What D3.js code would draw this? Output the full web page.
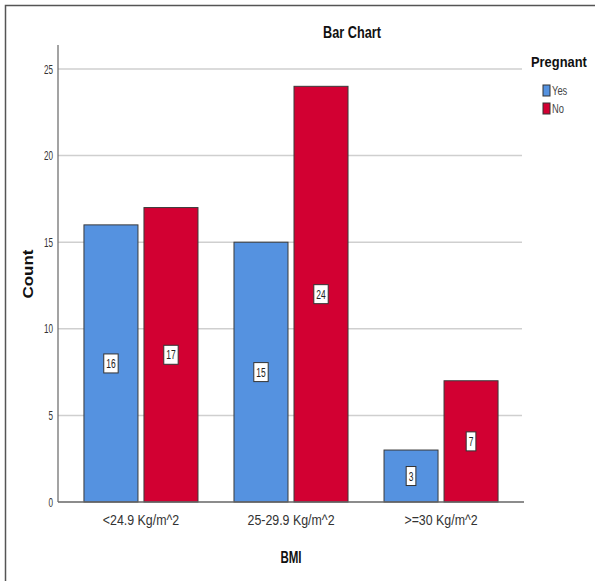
<!DOCTYPE html>
<html>
<head>
<meta charset="utf-8">
<script src="https://cdn.jsdelivr.net/npm/d3@7"></script>
<style>
html,body{margin:0;padding:0;background:#fff;}
svg{display:block;}
</style>
</head>
<body>
<svg id="chart" width="595" height="581"></svg>
<script>
const categories = ["<24.9 Kg/m^2", "25-29.9 Kg/m^2", ">=30 Kg/m^2"];
const groups = ["Yes", "No"];
const yesValues = [16, 15, 3];
const noValues = [17, 24, 7];
const yTicks = [0, 5, 10, 15, 20, 25];
const colors = ["#5592e0", "#d20032"];

const SANS = "'Liberation Sans',Arial,sans-serif";

const data = categories.map((c, i) => ({cat: c, values: [
  {key: "Yes", value: yesValues[i]},
  {key: "No", value: noValues[i]}
]}));

const svg = d3.select("#chart");

// helper: horizontally condensed text
function ctext(parent, str, x, y, size, sx, opts = {}) {
  return parent.append("text").text(str)
    .attr("transform", `translate(${x},${y}) scale(${sx},1)`)
    .attr("text-anchor", opts.anchor || "start")
    .attr("font-family", SANS)
    .attr("font-weight", opts.weight || "normal")
    .attr("font-size", size)
    .attr("fill", opts.fill || "#111");
}

// outer frame (top and left visible)
svg.append("path").attr("d", "M5.5,600 L5.5,5.5 L600,5.5")
  .attr("fill", "none").attr("stroke", "#555").attr("stroke-width", 1.5);

const x0 = d3.scaleBand().domain(categories).range([58, 524]).paddingInner(0.24).paddingOuter(0.173);
const x1 = d3.scaleBand().domain(groups).range([0, x0.bandwidth()]).paddingInner(0.1).paddingOuter(0);
const y = d3.scaleLinear().domain([0, 25]).range([502, 69]);
const color = d3.scaleOrdinal().domain(groups).range(colors);

// gridlines
svg.append("g").selectAll("line").data(yTicks.filter(d => d > 0)).join("line")
  .attr("x1", 58).attr("x2", 522)
  .attr("y1", d => y(d)).attr("y2", d => y(d))
  .attr("stroke", "#cfcfcf").attr("stroke-width", 1.5);

// y axis
const ySX = 0.65;
const yAxis = svg.append("g").attr("transform", "translate(58,0)")
  .call(d3.axisLeft(y).tickValues(yTicks).tickSize(0).tickPadding(5));
yAxis.select(".domain").remove();
yAxis.selectAll("text").attr("font-family", SANS).attr("font-size", 12.5).attr("fill", "#333")
  .attr("x", -5 / ySX).attr("transform", `scale(${ySX},1)`);
svg.append("line").attr("x1", 58).attr("x2", 58).attr("y1", 45).attr("y2", 502)
  .attr("stroke", "#666").attr("stroke-width", 1.2);

// bars
const gGroups = svg.append("g").selectAll("g").data(data).join("g")
  .attr("transform", d => `translate(${x0(d.cat)},0)`);
gGroups.selectAll("rect").data(d => d.values).join("rect")
  .attr("x", d => x1(d.key)).attr("width", x1.bandwidth())
  .attr("y", d => y(d.value)).attr("height", d => y(0) - y(d.value))
  .attr("fill", d => color(d.key)).attr("stroke", "#3a3a3a").attr("stroke-width", 1);

// value labels
const vSX = 0.65;
gGroups.selectAll("g.lbl").data(d => d.values).join("g").attr("class", "lbl")
  .each(function(d) {
    const g = d3.select(this);
    const cx = x1(d.key) + x1.bandwidth() / 2;
    const cy = (y(d.value) + y(0)) / 2;
    const t = ctext(g, d.value, cx, cy + 4.5, 13, vSX, {anchor: "middle", fill: "#222"});
    const bb = t.node().getBBox();
    const w = bb.width * vSX + 5, h = 19;
    g.insert("rect", "text").attr("x", cx - w / 2).attr("y", cy - h / 2)
      .attr("width", w).attr("height", h).attr("fill", "#fff").attr("stroke", "#333").attr("stroke-width", 1);
  });

// x axis
const xAxis = svg.append("g").attr("transform", "translate(0,502)")
  .call(d3.axisBottom(x0).tickSize(0).tickPadding(12));
xAxis.select(".domain").remove();
xAxis.selectAll("text").attr("font-family", SANS).attr("font-size", 15.5).attr("fill", "#333")
  .attr("transform", "scale(0.8,1)");
svg.append("line").attr("x1", 58).attr("x2", 524).attr("y1", 502).attr("y2", 502)
  .attr("stroke", "#666").attr("stroke-width", 1.5);

// titles
ctext(svg, "Bar Chart", 352, 38, 16.5, 0.77, {anchor: "middle", weight: "bold"});
ctext(svg, "BMI", 291, 563, 16.5, 0.7, {anchor: "middle", weight: "bold"});
svg.append("text").text("Count").attr("transform", "translate(33,274) rotate(-90) scale(1,0.85)")
  .attr("text-anchor", "middle").attr("font-family", SANS).attr("font-weight", "bold").attr("font-size", 17).attr("fill", "#111");

// legend
ctext(svg, "Pregnant", 531, 67, 15, 0.86, {weight: "bold"});
const leg = svg.append("g").selectAll("g").data(groups).join("g")
  .attr("transform", (d, i) => `translate(543,${85 + i * 18})`);
leg.append("rect").attr("width", 7).attr("height", 11)
  .attr("fill", d => color(d)).attr("stroke", "#333").attr("stroke-width", 1);
leg.each(function(d) { ctext(d3.select(this), d, 9, 10, 13, 0.72, {fill: "#444"}); });
</script>
</body>
</html>
